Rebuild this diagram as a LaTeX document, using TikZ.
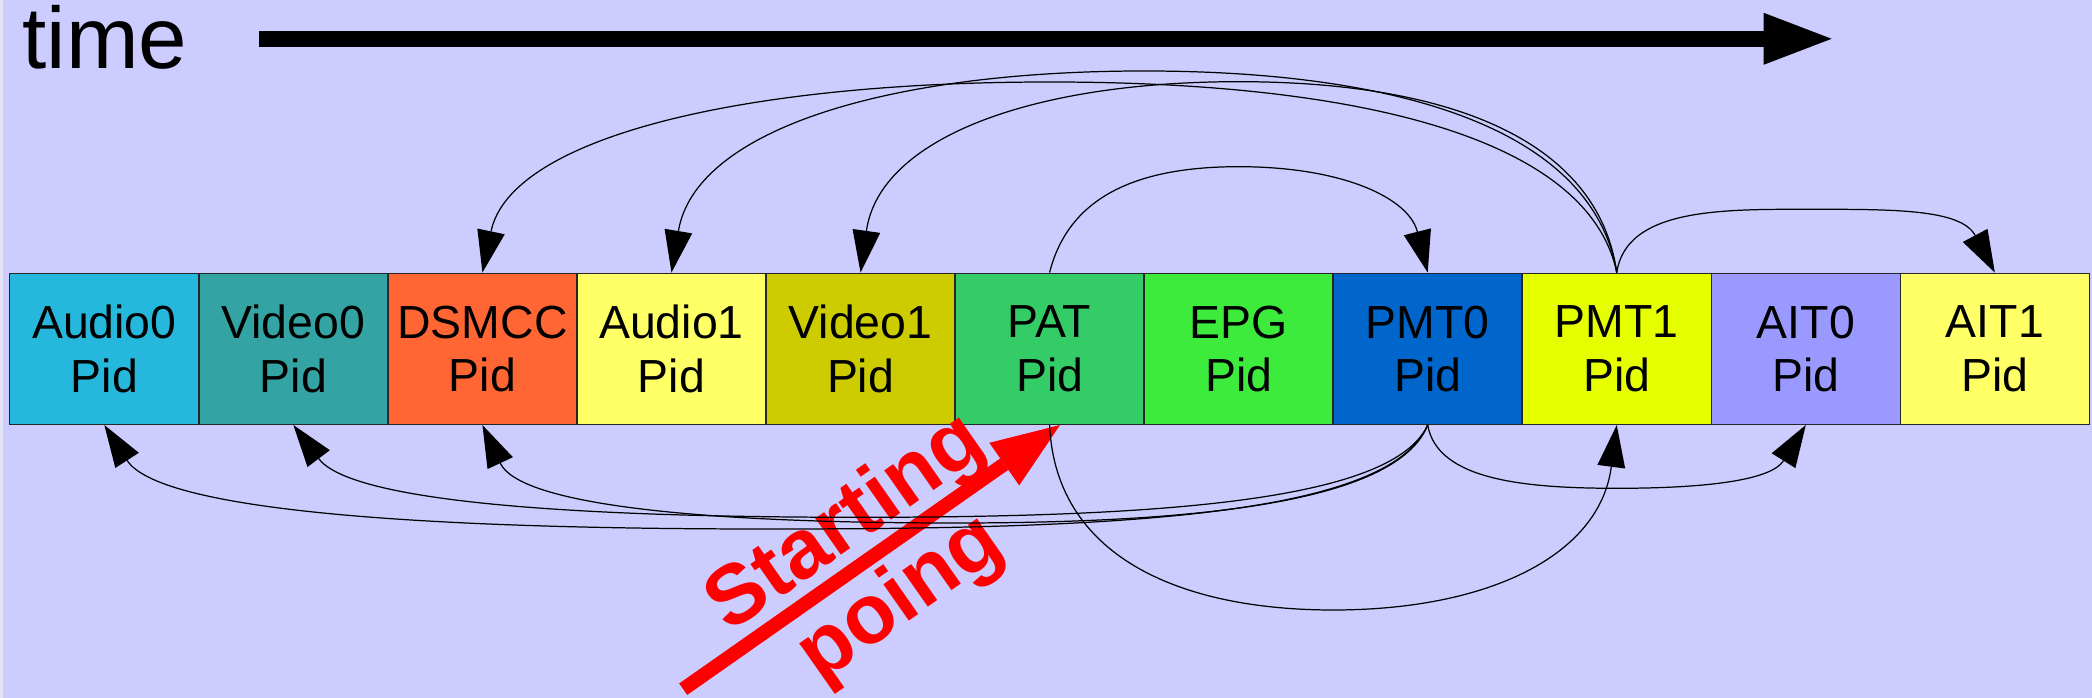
\documentclass[tikz,border=0pt]{standalone}
\usepackage{fontspec}
\setmainfont{Liberation Sans}
\usetikzlibrary{arrows.meta,calc}

\definecolor{bg}{HTML}{CCCCFF}
\definecolor{bgedge}{HTML}{E4E4F6}
\definecolor{cAudioA}{HTML}{25B8DC}
\definecolor{cVideoA}{HTML}{33A3A3}
\definecolor{cDsmcc}{HTML}{FF6633}
\definecolor{cYellow}{HTML}{FFFF66}
\definecolor{cVideoB}{HTML}{CCCC00}
\definecolor{cPat}{HTML}{33CC66}
\definecolor{cEpg}{HTML}{3DEB3D}
\definecolor{cPmtA}{HTML}{0066CC}
\definecolor{cPmtB}{HTML}{E6FF00}
\definecolor{cAitA}{HTML}{9999FF}
\definecolor{startred}{HTML}{FF0000}

\begin{document}
\begin{tikzpicture}[x=0.01cm, y=-0.01cm,
  pidbox/.style={draw=black!85, line width=0.4pt, minimum width=1.8905cm,
    minimum height=1.51cm, inner sep=0pt, align=center,
    font=\fontsize{13.2}{15.2}\selectfont},
  link/.style={draw=black, line width=0.35pt,
    -{Triangle[length=0.42cm,width=0.28cm,line width=0pt]}},
  redtext/.style={text=startred, inner sep=0pt, anchor=base, rotate=35,
    font=\bfseries\fontsize{23.9}{28}\selectfont}
]
\useasboundingbox (0,0) rectangle (2092,698);
\fill[bg] (0,0) rectangle (2092,698);
\fill[bgedge] (0,0) rectangle (2.5,698);

% time axis
\node[anchor=base west, inner sep=0pt, font=\fontsize{24.8}{28}\selectfont] (timelbl) at (22,69) {time};
\coordinate (t0) at (259,38.8);
\coordinate (t1) at (1831.6,38.8);
\draw[black, line width=0.157cm, -{Triangle[length=0.68cm,width=0.52cm,line width=0pt]}] (t0) -- (t1);

% the row of PIDs
\node[pidbox, fill=cAudioA] (audioA) at (104.33,348.8)  {Audio0\\Pid};
\node[pidbox, fill=cVideoA] (videoA) at (293.38,348.8)  {Video0\\Pid};
\node[pidbox, fill=cDsmcc]  (dsmcc)  at (482.43,348.8)  {DSMCC\\Pid};
\node[pidbox, fill=cYellow] (audioB) at (671.48,348.8)  {Audio1\\Pid};
\node[pidbox, fill=cVideoB] (videoB) at (860.53,348.8)  {Video1\\Pid};
\node[pidbox, fill=cPat]    (pat)    at (1049.58,348.8) {PAT\\Pid};
\node[pidbox, fill=cEpg]    (epg)    at (1238.63,348.8) {EPG\\Pid};
\node[pidbox, fill=cPmtA]   (pmtA)   at (1427.68,348.8) {PMT0\\Pid};
\node[pidbox, fill=cPmtB]   (pmtB)   at (1616.73,348.8) {PMT1\\Pid};
\node[pidbox, fill=cAitA]   (aitA)   at (1805.78,348.8) {AIT0\\Pid};
\node[pidbox, fill=cYellow] (aitB)   at (1994.83,348.8) {AIT1\\Pid};

% starting point marker
\coordinate (start) at (683.2,689.2);
\draw[startred, line width=0.14cm, -{Triangle[length=0.68cm,width=0.52cm,line width=0pt]}]
  (start) -- ([xshift=0.104cm]pat.south);
\node[redtext] (startA) at (859.4,542.4) {Starting};
\node[redtext] (startB) at (914,617.5) {poing};

% apexes of the references
\coordinate (apex1) at (1049.6,82);
\coordinate (apex2) at (1144.1,71);
\coordinate (apex3) at (1238.6,81.7);
\coordinate (apex4) at (1238.6,166.7);
\coordinate (apex5) at (1805.8,209.3);
\coordinate (apex6) at (1333.2,610);
\coordinate (apex7) at (1616.7,488.3);
\coordinate (apex8) at (766,529);
\coordinate (apex9) at (860.5,517.3);
\coordinate (apex10) at (955,523);

% references above the row
\draw[link] (pmtB.north) .. controls +(-28,-134) and +(312,0) .. (apex1)
  .. controls +(-312,0) and +(28,-134) .. (dsmcc.north);
\draw[link] (pmtB.north) .. controls +(-23.6,-141.6) and +(260,0) .. (apex2)
  .. controls +(-260,0) and +(23.6,-141.6) .. (audioB.north);
\draw[link] (pmtB.north) .. controls +(-18.9,-134) and +(208,0) .. (apex3)
  .. controls +(-208,0) and +(18.9,-134) .. (videoB.north);
\draw[link] (pat.north) .. controls +(18.9,-74.6) and +(-104,0) .. (apex4)
  .. controls +(104,0) and +(-18.9,-74.6) .. (pmtA.north);
\draw[link] (pmtB.north) .. controls +(9.5,-64) and +(-85,0) .. (apex5)
  .. controls +(85,0) and +(-34,-64) .. (aitB.north);

% references below the row
\draw[link] (pat.south) .. controls +(5.7,130) and +(-156,0) .. (apex6)
  .. controls +(156,0) and +(-17,130) .. (pmtB.south);
\draw[link] (pmtA.south) .. controls +(9.5,54.4) and +(-94.5,0) .. (apex7)
  .. controls +(94.5,0) and +(-34,54.4) .. (aitA.south);
\draw[link] (pmtA.south) .. controls +(-39.7,94.2) and +(331,0) .. (apex8)
  .. controls +(-364,0) and +(54,83.8) .. (audioA.south);
\draw[link] (pmtA.south) .. controls +(-34,74.4) and +(312,0) .. (apex9)
  .. controls +(-312,0) and +(56,74.4) .. (videoA.south);
\draw[link] (pmtA.south) .. controls +(-28,69.3) and +(283.6,0) .. (apex10)
  .. controls +(-260,0) and +(37,79.2) .. (dsmcc.south);
\end{tikzpicture}
\end{document}
